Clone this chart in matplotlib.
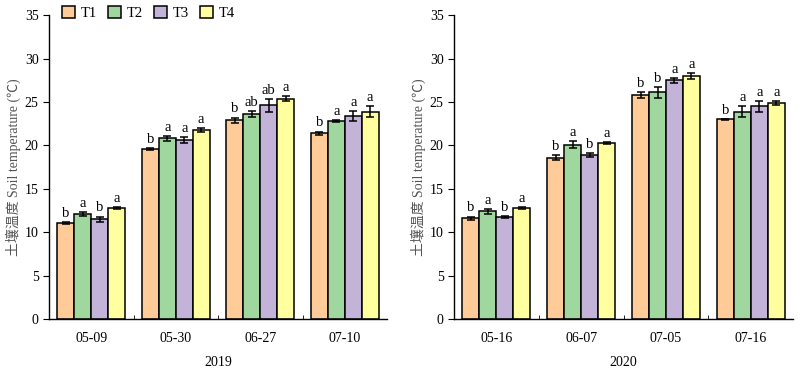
import matplotlib
matplotlib.use("Agg")
import matplotlib.pyplot as plt
import numpy as np

plt.rcParams.update({
    "font.family": ["Liberation Serif", "Noto Sans CJK SC"],
    "font.size": 10,
    "axes.linewidth": 1.0,
})

treatments = ["T1", "T2", "T3", "T4"]
colors = ["#FFCB99", "#9FD79F", "#C4B3D8", "#FFFF9F"]

dates_2019 = ["05-09", "05-30", "06-27", "07-10"]
mean_2019 = [
    [11.1, 19.6, 22.9, 21.4],   # T1
    [12.1, 20.8, 23.6, 22.8],   # T2
    [11.5, 20.6, 24.6, 23.4],   # T3
    [12.8, 21.8, 25.4, 23.9],   # T4
]
err_2019 = [
    [0.12, 0.10, 0.30, 0.20],
    [0.22, 0.25, 0.35, 0.08],
    [0.30, 0.35, 0.70, 0.55],
    [0.10, 0.22, 0.28, 0.60],
]
sig_2019 = [
    ["b", "b", "b", "b"],
    ["a", "a", "ab", "a"],
    ["b", "a", "ab", "a"],
    ["a", "a", "a", "a"],
]

dates_2020 = ["05-16", "06-07", "07-05", "07-16"]
mean_2020 = [
    [11.6, 18.6, 25.8, 23.0],
    [12.4, 20.1, 26.1, 23.9],
    [11.8, 18.9, 27.5, 24.5],
    [12.8, 20.3, 28.0, 24.9],
]
err_2020 = [
    [0.20, 0.25, 0.30, 0.08],
    [0.30, 0.40, 0.60, 0.60],
    [0.10, 0.25, 0.28, 0.60],
    [0.10, 0.10, 0.30, 0.22],
]
sig_2020 = [
    ["b", "b", "b", "b"],
    ["a", "a", "b", "a"],
    ["b", "b", "a", "a"],
    ["a", "a", "a", "a"],
]

fig = plt.figure(figsize=(8, 3.79), dpi=100)
ax1 = fig.add_axes([0.0613, 0.158, 0.4225, 0.802])
ax2 = fig.add_axes([0.5675, 0.158, 0.424, 0.802])

width = 0.2
x = np.arange(4)


def draw(ax, dates, means, errs, sigs, year):
    for i, name in enumerate(treatments):
        pos = x + (i - 1.5) * width
        ax.bar(pos, means[i], width, color=colors[i], edgecolor="black",
               linewidth=1.1, label=name, zorder=2)
        ax.errorbar(pos, means[i], yerr=errs[i], fmt="none", ecolor="black",
                    elinewidth=1.1, capsize=3, capthick=1.1, zorder=3)
        for p, m, e, s in zip(pos, means[i], errs[i], sigs[i]):
            ax.text(p, m + e + 0.25, s, ha="center", va="bottom", fontsize=10.5)
    ax.set_xlim(-0.5, 3.5)
    ax.set_ylim(0, 35)
    ax.set_yticks(np.arange(0, 36, 5))
    ax.set_xticks(x)
    ax.set_xticklabels(dates)
    ax.set_xticks(x[:-1] + 0.5, minor=True)
    ax.tick_params(axis="x", which="major", length=0, pad=9)
    ax.tick_params(axis="x", which="minor", direction="in", length=3)
    ax.tick_params(axis="y", direction="out", length=4)
    ax.spines["top"].set_visible(False)
    ax.spines["right"].set_visible(False)
    ax.set_xlabel(year, labelpad=8)
    ax.set_ylabel("土壤温度 Soil temperature (℃)", color="#555555", labelpad=3)


draw(ax1, dates_2019, mean_2019, err_2019, sig_2019, "2019")
draw(ax2, dates_2020, mean_2020, err_2020, sig_2020, "2020")

ax1.legend(loc="center left", bbox_to_anchor=(0.02, 1.008), ncol=4, frameon=False,
           fontsize=10.5, handlelength=0.9, handleheight=0.9, handletextpad=0.4,
           columnspacing=0.75, borderaxespad=0)

fig.savefig("out.png", dpi=100, facecolor="white")
